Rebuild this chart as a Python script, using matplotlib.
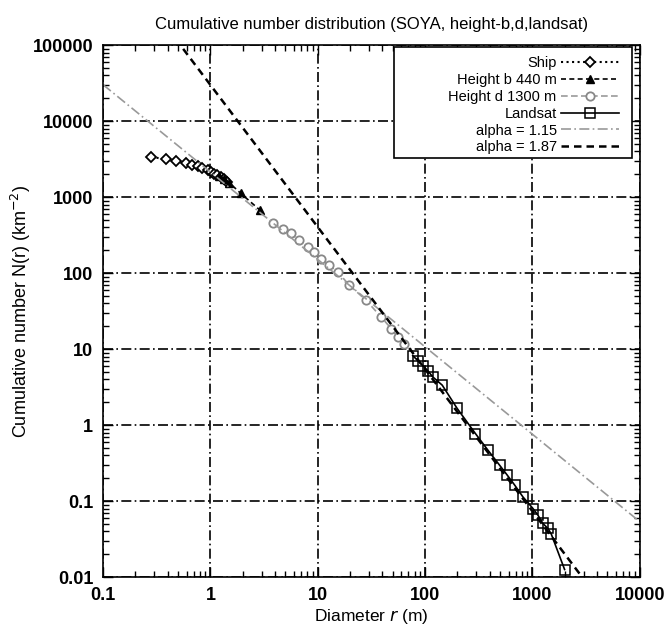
import numpy as np
import matplotlib
matplotlib.use("Agg")
import matplotlib.pyplot as plt
from matplotlib.patches import Rectangle
from matplotlib.ticker import LogLocator, FixedLocator, NullFormatter

plt.rcParams['font.family'] = ['Liberation Sans', 'DejaVu Sans']

# data
ship_r = [0.28, 0.385, 0.48, 0.59, 0.68, 0.76, 0.84, 0.94, 1.01, 1.08, 1.16, 1.25, 1.34, 1.44]
ship_n = [3390, 3160, 2980, 2830, 2690, 2560, 2430, 2270, 2150, 2050, 1950, 1860, 1730, 1590]

hb_r = [1.2, 1.35, 1.5, 1.92, 2.9]
hb_n = [1900, 1750, 1550, 1120, 675]

hd_r = [3.8, 4.7, 5.6, 6.7, 8.05, 9.3, 10.7, 12.8, 15.3, 19.7, 28.2, 38.9, 48.3, 55.6, 64.2]
hd_n = [459, 387, 333, 272, 222, 190, 156, 127, 104, 69.5, 44, 26.6, 18.7, 14.5, 11.8]

ls_r = [76.8, 85.5, 95.2, 106, 118, 144.5, 199, 295, 385, 494, 583, 683, 815,
        1012, 1125, 1253, 1396, 1500, 1995]
ls_n = [8.24, 7.06, 6.07, 5.21, 4.31, 3.36, 1.66, 0.773, 0.469, 0.298, 0.22, 0.163,
        0.114, 0.080, 0.0655, 0.0508, 0.0437, 0.0368, 0.0126]

alpha1, c1 = 1.15, 2140.0
alpha2, c2 = 1.87, 3.0e4

fig = plt.figure(figsize=(6.65, 6.28), dpi=100)
ax = fig.add_axes([0.155, 0.081, 0.807, 0.847])

r = np.logspace(-1, 4, 200)
ax.plot(ship_r, ship_n, linestyle=':', color='black', lw=1.5, marker='D', ms=5,
        mfc='white', mec='black', mew=1.3, label='Ship')
ax.plot(hb_r, hb_n, linestyle=(0, (3, 2)), color='black', lw=1.2, marker='^', ms=6,
        mfc='black', mec='black', label='Height b 440 m')
ax.plot(hd_r, hd_n, linestyle=(0, (4, 2)), color='#999999', lw=1.2, marker='o', ms=6,
        mfc='white', mec='#888888', mew=1.3, label='Height d 1300 m')
ax.plot(ls_r, ls_n, linestyle='-', color='black', lw=1.2, marker='s', ms=6.5,
        mfc='none', mec='black', mew=1.1, label='Landsat')
ax.plot(r, c1 * r ** -alpha1, linestyle=(0, (6, 2, 1, 2)), color='#999999', lw=1.2,
        label='alpha = 1.15')
ax.plot(r, c2 * r ** -alpha2, linestyle=(0, (3, 2)), color='black', lw=1.8,
        label='alpha = 1.87')

ax.set_xscale('log')
ax.set_yscale('log')
ax.set_xlim(0.1, 10000)
ax.set_ylim(0.01, 100000)

xt = [0.1, 1, 10, 100, 1000, 10000]
yt = [0.01, 0.1, 1, 10, 100, 1000, 10000, 100000]
ax.xaxis.set_major_locator(FixedLocator(xt))
ax.yaxis.set_major_locator(FixedLocator(yt))
ax.set_xticklabels(['0.1', '1', '10', '100', '1000', '10000'])
ax.set_yticklabels(['0.01', '0.1', '1', '10', '100', '1000', '10000', '100000'])
ax.xaxis.set_minor_locator(LogLocator(base=10, subs=np.arange(2, 10), numticks=20))
ax.yaxis.set_minor_locator(LogLocator(base=10, subs=np.arange(2, 10), numticks=20))
ax.xaxis.set_minor_formatter(NullFormatter())
ax.yaxis.set_minor_formatter(NullFormatter())
ax.tick_params(which='both', direction='in', top=True, right=True, width=1)
ax.tick_params(which='major', length=7, labelsize=13, pad=7)
ax.tick_params(which='minor', length=4)
for t in ax.get_xticklabels() + ax.get_yticklabels():
    t.set_fontweight('bold')

ax.grid(True, which='major', color='black', linestyle=(0, (6, 2, 1, 2)), lw=1.2)
for s in ax.spines.values():
    s.set_linewidth(1.2)

ax.set_xlabel('Diameter $r$ (m)', fontsize=12.5, labelpad=2)
ax.set_ylabel('Cumulative number N(r) (km$^{-2}$)', fontsize=13, labelpad=0)
ax.set_title('Cumulative number distribution (SOYA, height-b,d,landsat)',
             fontsize=12, pad=12)

# gnuplot style key: labels right aligned, samples on the right, wide box
ax.add_patch(Rectangle((0.543, 0.788), 0.442, 0.208, transform=ax.transAxes,
                       facecolor='white', edgecolor='black', lw=1.2, zorder=4))
leg = ax.legend(loc='upper right', bbox_to_anchor=(0.962, 0.98), markerfirst=False,
                fontsize=10.5, frameon=False, handlelength=4.0, handletextpad=0.3,
                borderpad=0, borderaxespad=0, labelspacing=0.2)
leg.set_zorder(5)

fig.savefig('out.png', dpi=100)
